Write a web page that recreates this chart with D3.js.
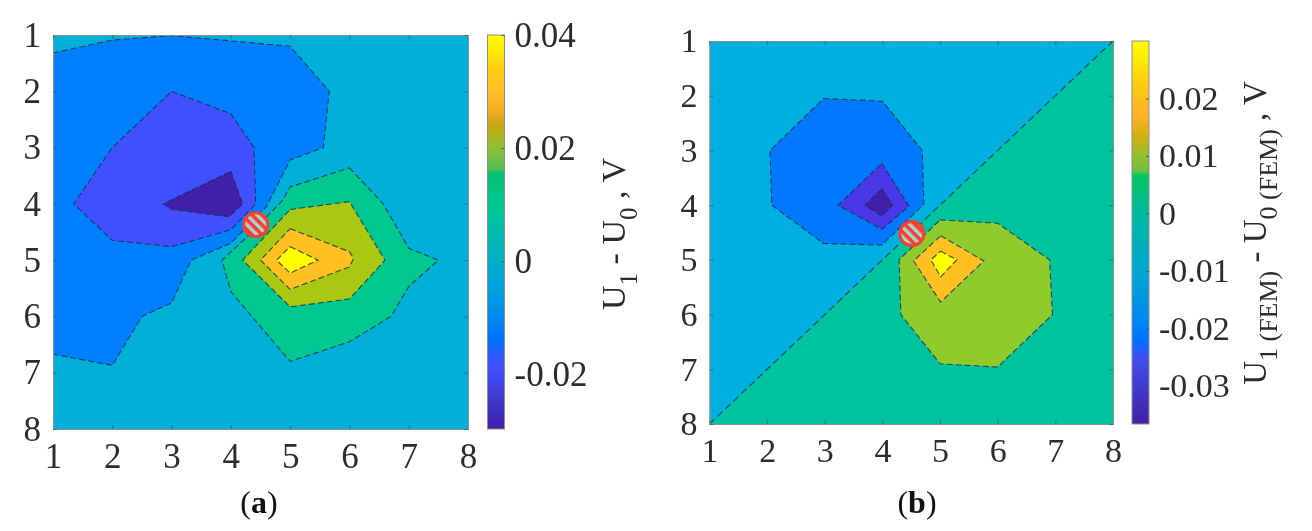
<!DOCTYPE html>
<html><head><meta charset="utf-8">
<script src="https://cdnjs.cloudflare.com/ajax/libs/d3/7.8.5/d3.min.js"></script>
<style>html,body{margin:0;padding:0;background:#fff}svg{display:block;filter:blur(0.5px)}text{font-family:"Liberation Serif",serif;fill:#2c2c2c}</style>
</head><body><svg id="c" width="1312" height="531"></svg>
<script>
const gridTicks=[1,2,3,4,5,6,7,8];
// panel (a) contour bands, in grid units
const aBackground="#00b0d8";
const aNeg1=[[1,1.32],[2,1.09],[3,1.01],[5,1.2],[5.66,2],[5.56,3],[5,3.22],[4.6,4.05],[4,4.7],[3.33,5],[3,5.76],[2.5,6],[2,6.87],[1,6.67]];
const aNeg2=[[3,2],[4,2.4],[4.39,3],[4.42,4],[4,4.46],[3,4.76],[2,4.65],[1.35,4],[2,3]];
const aNeg3=[[4,3.42],[4.2,4],[3.97,4.23],[3,4.1],[2.86,4]];
const aPos1=[[6,3.36],[6.57,4],[7,4.79],[7.5,5],[7,5.47],[6.7,6],[6,6.45],[5,6.8],[4,5.56],[3.85,5],[4.27,4.59],[4.87,3.94],[5,3.7]];
const aPos2=[[5,4.1],[6,3.96],[6.6,5],[6,5.69],[5,5.83],[4.2,5]];
const aPos3=[[5,4.44],[6,4.85],[6.07,4.97],[6,5.12],[5,5.52],[4.5,5]];
const aPos4=[[5,4.76],[5.47,5],[5,5.23],[4.77,5]];
const aMarker=[4.42,4.37];
const aBarTicks=[-0.02,0,0.02,0.04];
const aBarLabels=["-0.02","0","0.02","0.04"];
const aBarDomain=[-0.0297,0.04];
const aBarStopValues=[-0.0297,-0.019,-0.0155,-0.0142,-0.0071,0,0.0106,0.0154,0.0163,0.0201,0.0243,0.0261,0.0284,0.0343,0.04];
const aBarStopColors=["#4020a0","#4050ff","#2060ff","#0070ff","#0098e8","#00b0c8","#00c890","#00c070","#50c058","#90c030","#c8a810","#f0a820","#ffb828","#ffd010","#ffff00"];
// panel (b)
const bBackground="#00b0e0";
const bLower=[[1,8],[8,1],[8,8]];
const bNeg1=[[2.98,2.05],[4,2.1],[4.69,3],[4.72,3.98],[3.99,4.73],[2.98,4.7],[2.08,4],[2.05,3]];
const bNeg2=[[3.99,3.24],[4.46,4.02],[3.99,4.44],[3.23,4]];
const bNeg3=[[3.99,3.7],[4.18,4],[3.99,4.2],[3.7,4]];
const bPos1=[[5,4.27],[6,4.33],[6.9,5],[6.95,6],[6,6.96],[5,6.9],[4.32,6],[4.29,5]];
const bPos2=[[5.01,4.56],[5.76,5.02],[5.01,5.77],[4.54,5.02]];
const bPos3=[[5.01,4.84],[5.29,5],[5.01,5.31],[4.84,5]];
const bMarker=[4.51,4.52];
const bBarTicks=[-0.03,-0.02,-0.01,0,0.01,0.02];
const bBarLabels=["-0.03","-0.02","-0.01","0","0.01","0.02"];
const bBarDomain=[-0.0366,0.03];
const bBarStopValues=[-0.0366,-0.025,-0.0221,-0.0187,-0.01,0,0.0066,0.0074,0.0099,0.0138,0.0167,0.0219,0.03];
const bBarStopColors=["#4020a0","#4050f0","#0070ff","#0088f0","#00a8d0","#00b8a0","#00c860","#70c040","#90c030","#d8b010","#ffb028","#ffc810","#ffff00"];

const svg=d3.select("#c");
const defs=svg.append("defs");
const pat=defs.append("pattern").attr("id","stripes").attr("width",7).attr("height",7)
  .attr("patternUnits","userSpaceOnUse").attr("patternTransform","rotate(45)");
pat.append("rect").attr("width",7).attr("height",7).attr("fill","#a6d4da");
pat.append("rect").attr("width",7).attr("height",3.6).attr("fill","#f6402e");

function panel(o){
  const x=d3.scaleLinear().domain([1,8]).range([o.l,o.r]);
  const y=d3.scaleLinear().domain([1,8]).range([o.t,o.b]);
  const g=svg.append("g");
  g.append("rect").attr("x",o.l).attr("y",o.t).attr("width",o.r-o.l).attr("height",o.b-o.t).attr("fill",o.bg);
  const closed=d3.line().x(d=>x(d[0])).y(d=>y(d[1])).curve(d3.curveLinearClosed);
  const open=d3.line().x(d=>x(d[0])).y(d=>y(d[1]));
  o.bands.forEach(d=>{
    g.append("path").attr("d",closed(d.pts)).attr("fill",d.fill);
    g.append("path").attr("d",d.edge?open(d.edge):closed(d.pts)).attr("fill","none")
      .attr("stroke","#17324a").attr("stroke-opacity",0.85).attr("stroke-width",1.1).attr("stroke-dasharray",d.dash||"6 3");
  });
  const frame=(sel)=>sel.call(s=>s.selectAll(".domain").attr("stroke","#8a8f94").attr("stroke-width",1))
    .call(s=>s.selectAll("line").attr("stroke","#556").attr("stroke-width",0.8));
  const lab=s=>s.selectAll("text").attr("font-size",o.fs).attr("fill","#2c2c2c").style("font-family",'"Liberation Serif",serif');
  g.append("g").attr("transform",`translate(0,${o.b})`).call(d3.axisBottom(x).tickValues(gridTicks).tickFormat(d3.format("d")).tickSize(-4).tickPadding(14)).call(frame).call(lab);
  g.append("g").attr("transform",`translate(${o.l},0)`).call(d3.axisLeft(y).tickValues(gridTicks).tickFormat(d3.format("d")).tickSize(-4).tickPadding(12)).call(frame).call(lab);
  g.append("g").attr("transform",`translate(0,${o.t})`).call(d3.axisTop(x).tickValues(gridTicks).tickFormat("").tickSize(-4)).call(frame);
  g.append("g").attr("transform",`translate(${o.r},0)`).call(d3.axisRight(y).tickValues(gridTicks).tickFormat("").tickSize(-4)).call(frame);
  // marker
  g.append("circle").attr("cx",x(o.marker[0])).attr("cy",y(o.marker[1])).attr("r",12).attr("fill","url(#stripes)").attr("stroke","#f6402e").attr("stroke-width",3);
  // colorbar
  const c=d3.scaleLinear().domain(o.barDomain).range([o.b,o.t]);
  const gid="grad"+o.id;
  const lg=defs.append("linearGradient").attr("id",gid).attr("x1",0).attr("x2",0).attr("y1",1).attr("y2",0);
  lg.selectAll("stop").data(o.barValues).join("stop")
    .attr("offset",d=>(d-o.barDomain[0])/(o.barDomain[1]-o.barDomain[0]))
    .attr("stop-color",(d,i)=>o.barColors[i]);
  g.append("rect").attr("x",o.bl).attr("y",o.t).attr("width",o.br-o.bl).attr("height",o.b-o.t).attr("fill",`url(#${gid})`).attr("stroke","#8a8f94").attr("stroke-width",1);
  const ax=g.append("g").attr("transform",`translate(${o.br},0)`)
    .call(d3.axisRight(c).tickValues(o.barTicks).tickFormat((d,i)=>o.barLabels[i]).tickSize(-3).tickPadding(o.barPad));
  ax.select(".domain").remove();
  ax.selectAll("line").attr("stroke","#556");
  ax.call(lab).selectAll("text").attr("text-anchor","start");
  // caption
  const cap=g.append("text").attr("x",o.capX).attr("y",o.capY).attr("text-anchor","middle").attr("font-size",32).style("fill","#111");
  cap.append("tspan").text("(");
  cap.append("tspan").attr("font-weight","bold").text(o.id);
  cap.append("tspan").text(")");
  // title
  const t=g.append("text").attr("transform",`translate(${o.titleX},${o.titleY}) rotate(-90)`).attr("text-anchor","middle").attr("font-size",o.titleFs);
  o.title.forEach(p=>{
    if(p.sub) t.append("tspan").attr("dy",o.subDy).attr("font-size",o.subFs).text(p.t);
    else t.append("tspan").attr("dy",p.back?-o.subDy:0).text(p.t);
  });
}

panel({id:"a",l:53,r:468,t:35,b:429,fs:35,bg:aBackground,marker:aMarker,
  bands:[{pts:aNeg1,fill:"#0080ff",edge:aNeg1},{pts:aNeg2,fill:"#4050ff"},{pts:aNeg3,fill:"#4020a8"},
         {pts:aPos1,fill:"#00c890"},{pts:aPos2,fill:"#a8c814"},{pts:aPos3,fill:"#ffc020"},{pts:aPos4,fill:"#ffff00"}],
  bl:487.5,br:504.5,barDomain:aBarDomain,barValues:aBarStopValues,barColors:aBarStopColors,barTicks:aBarTicks,barLabels:aBarLabels,barPad:10,
  capX:259,capY:513,titleX:625,titleY:234,titleFs:34,subFs:25,subDy:12,
  title:[{t:"U"},{t:"1",sub:1},{t:"\u00a0- U",back:1},{t:"0",sub:1},{t:"\u00a0, V",back:1}]});

panel({id:"b",l:709.5,r:1113,t:41,b:424,fs:34,bg:bBackground,marker:bMarker,
  bands:[{pts:bLower,fill:"#00c4a0",edge:bLower.slice(0,2),dash:"7 4"},{pts:bNeg1,fill:"#0078ff"},{pts:bNeg2,fill:"#4838e8"},{pts:bNeg3,fill:"#4020a8"},
         {pts:bPos1,fill:"#8fcb2c"},{pts:bPos2,fill:"#ffc020"},{pts:bPos3,fill:"#ffff00"}],
  bl:1132,br:1149,barDomain:bBarDomain,barValues:bBarStopValues,barColors:bBarStopColors,barTicks:bBarTicks,barLabels:bBarLabels,barPad:10,
  capX:917,capY:513,titleX:1266,titleY:233,titleFs:33,subFs:26,subDy:11,
  title:[{t:"U"},{t:"1 (FEM)",sub:1},{t:"\u00a0- U",back:1},{t:"0 (FEM)",sub:1},{t:"\u00a0, V",back:1}]});
</script></body></html>
